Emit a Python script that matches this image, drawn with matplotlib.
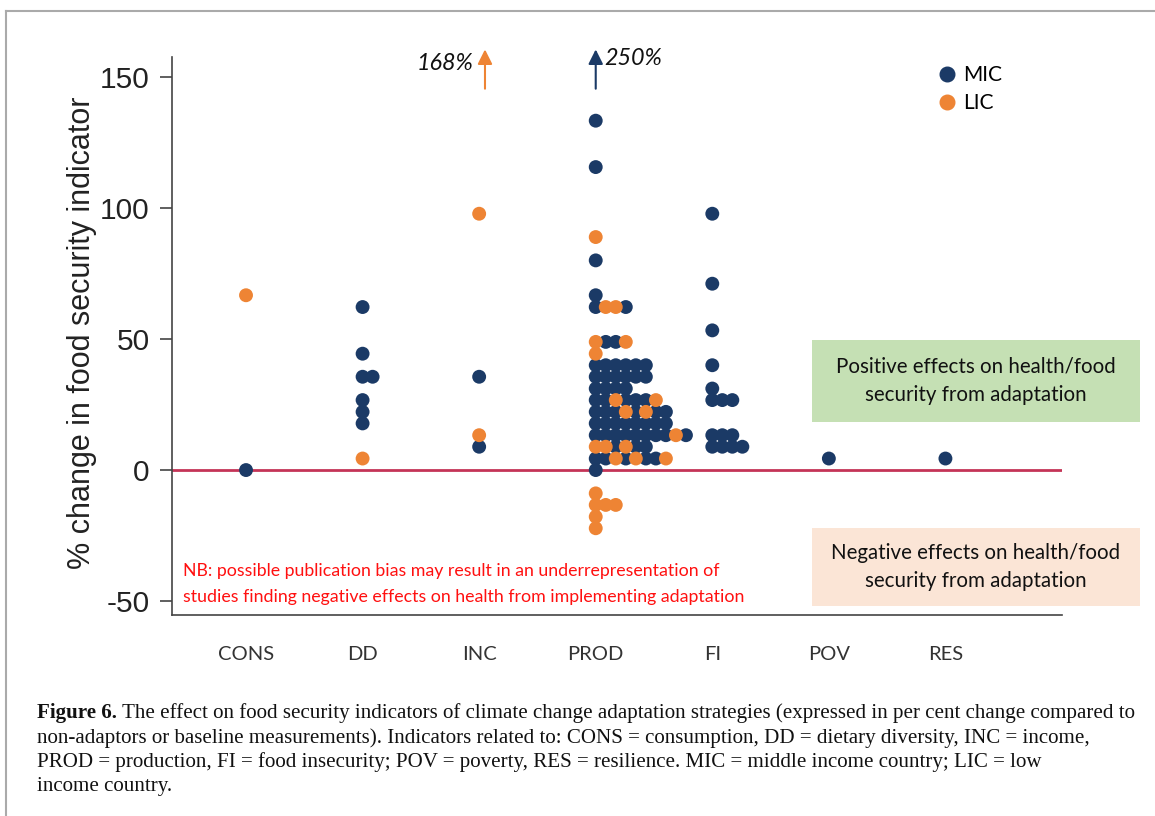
import matplotlib
matplotlib.use("Agg")
import matplotlib.pyplot as plt
from matplotlib.lines import Line2D
from matplotlib.patches import Rectangle

# ---------------- data ----------------
categories = ["CONS", "DD", "INC", "PROD", "FI", "POV", "RES"]

# binned % change values per indicator; for each bin the studies stacked left -> right
# M = middle income country (MIC), L = low income country (LIC)
CONS_BINS = [66.7, 0.0]
CONS_GROUPS = ["L", "M"]
DD_BINS = [62.2, 44.4, 35.6, 26.7, 22.2, 17.8, 4.4]
DD_GROUPS = ["M", "M", "MM", "M", "M", "M", "L"]
INC_BINS = [97.8, 35.6, 13.3, 8.9]
INC_GROUPS = ["L", "M", "L", "M"]
PROD_BINS = [133.3, 115.6, 88.9, 80.0, 66.7, 62.2, 48.9, 44.4, 40.0, 35.6, 31.1,
             26.7, 22.2, 17.8, 13.3, 8.9, 4.4, 0.0, -8.9, -13.3, -17.8, -22.2]
PROD_GROUPS = ["M", "M", "L", "M", "M", "MLLM", "LMML", "L", "MMMMMM", "MMMMMM", "MMMM",
               "MMLMMML", "MMMLMLMM", "MMMMMMMM", "MMMMMMMMLM", "LLMLMM", "MMLMLMML",
               "M", "L", "LLL", "L", "L"]
FI_BINS = [97.8, 71.1, 53.3, 40.0, 31.1, 26.7, 13.3, 8.9]
FI_GROUPS = ["M", "M", "M", "M", "M", "MMM", "MMM", "MMMM"]
POV_BINS = [4.4]
POV_GROUPS = ["M"]
RES_BINS = [4.4]
RES_GROUPS = ["M"]

ALL_BINS = [CONS_BINS, DD_BINS, INC_BINS, PROD_BINS, FI_BINS, POV_BINS, RES_BINS]
ALL_GROUPS = [CONS_GROUPS, DD_GROUPS, INC_GROUPS, PROD_GROUPS, FI_GROUPS, POV_GROUPS, RES_GROUPS]

# off-scale values shown as arrows
OFFSCALE_CATS = ["INC", "PROD"]
OFFSCALE_VALUES = [168, 250]
OFFSCALE_GROUPS = ["L", "M"]

yticks = [-50, 0, 50, 100, 150]

MIC_COLOR = "#1b3a66"
LIC_COLOR = "#ee8434"

# ---------------- figure ----------------
fig = plt.figure(figsize=(11.55, 8.16), dpi=100)
ax = fig.add_axes([172 / 1155, 1 - 615 / 816, (1062 - 172) / 1155, (615 - 57) / 816])

step = 0.086  # horizontal stacking step (category units)
mx, my, lx, ly = [], [], [], []
for i, (bins, groups) in enumerate(zip(ALL_BINS, ALL_GROUPS)):
    for v, g in zip(bins, groups):
        for j, c in enumerate(g):
            if c == "M":
                mx.append(i + j * step); my.append(v)
            else:
                lx.append(i + j * step); ly.append(v)

ax.scatter(mx, my, s=100, color=MIC_COLOR, edgecolors="none", zorder=3)
ax.scatter(lx, ly, s=100, color=LIC_COLOR, edgecolors="none", zorder=4)

ax.axhline(0, color="#c43457", lw=2, zorder=2)

ax.set_xlim(-0.635, 7.0)
ax.set_ylim(-55.3, 157.6)
ax.set_yticks(yticks)
ax.set_yticklabels([str(t) for t in yticks], fontsize=21.5, family="Liberation Sans", color="#222222")
ax.set_xticks(range(len(categories)))
ax.set_xticklabels(categories, fontsize=14.5, family="Lato", color="#333333")
ax.tick_params(axis="x", length=0, pad=22)
ax.tick_params(axis="y", length=9, width=1.2, color="#444444", pad=7)
for s in ["top", "right"]:
    ax.spines[s].set_visible(False)
for s in ["left", "bottom"]:
    ax.spines[s].set_color("#444444")
    ax.spines[s].set_linewidth(1.2)

ax.set_ylabel("% change in food security indicator", fontsize=22, family="Liberation Sans",
              color="#222222")
ax.yaxis.set_label_coords(-0.084, 0.505)

# off-scale arrows
for cat, val, grp in zip(OFFSCALE_CATS, OFFSCALE_VALUES, OFFSCALE_GROUPS):
    i = categories.index(cat)
    col = LIC_COLOR if grp == "L" else MIC_COLOR
    xa = i + (0.05 if grp == "L" else 0.0)
    ax.annotate("", xy=(xa, 160.5), xytext=(xa, 145.5), annotation_clip=False,
                arrowprops=dict(arrowstyle="-|>", color=col, lw=1.5, mutation_scale=22,
                                shrinkA=0, shrinkB=0))
    if grp == "L":
        ax.text(xa - 0.1, 155.3, f"{val}%", ha="right", va="center", fontsize=16.8,
                style="italic", family="Lato", color="#111111", clip_on=False)
    else:
        ax.text(xa + 0.07, 156.9, f"{val}%", ha="left", va="center", fontsize=16.8,
                style="italic", family="Lato", color="#111111", clip_on=False)

# legend
handles = [Line2D([], [], marker="o", ls="none", color=MIC_COLOR, markersize=10.5),
           Line2D([], [], marker="o", ls="none", color=LIC_COLOR, markersize=10.5)]
fig.legend(handles, ["MIC", "LIC"], loc="upper left", bbox_to_anchor=(924 / 1155, 1 - 55 / 816),
           frameon=False, prop=dict(family="Lato", size=15), handletextpad=0.2,
           labelspacing=0.37, handlelength=1.2, borderpad=0)

# NB text
ax.text(183 / 1155, 1 - 584 / 816,
        "NB: possible publication bias may result in an underrepresentation of\n"
        "studies finding negative effects on health from implementing adaptation",
        transform=fig.transFigure, ha="left", va="center", fontsize=12.8, family="Lato",
        color="#ff1010", linespacing=1.8)

# effect boxes
fig.patches.append(Rectangle((812 / 1155, 1 - 422 / 816), 328 / 1155, 82 / 816,
                             transform=fig.transFigure, facecolor="#c5e0b4", edgecolor="none", zorder=0))
fig.patches.append(Rectangle((812 / 1155, 1 - 606 / 816), 328 / 1155, 78 / 816,
                             transform=fig.transFigure, facecolor="#fbe5d6", edgecolor="none", zorder=0))
fig.text(976 / 1155, 1 - 381 / 816, "Positive effects on health/food\nsecurity from adaptation",
         ha="center", va="center", fontsize=14.8, family="Lato", color="#111111", linespacing=1.56)
fig.text(976 / 1155, 1 - 567 / 816, "Negative effects on health/food\nsecurity from adaptation",
         ha="center", va="center", fontsize=14.8, family="Lato", color="#111111", linespacing=1.56)

# frame lines
fig.add_artist(Line2D([6 / 1155, 1], [1 - 11 / 816, 1 - 11 / 816], transform=fig.transFigure,
                      color="#aaaaaa", lw=1.5))
fig.add_artist(Line2D([6 / 1155, 6 / 1155], [0, 1 - 11 / 816], transform=fig.transFigure,
                      color="#aaaaaa", lw=1.5))

# caption
cap_lines = [
    "The effect on food security indicators of climate change adaptation strategies (expressed in per cent change compared to",
    "non-adaptors or baseline measurements). Indicators related to: CONS = consumption, DD = dietary diversity, INC = income,",
    "PROD = production, FI = food insecurity; POV = poverty, RES = resilience. MIC = middle income country; LIC = low",
    "income country.",
]
cap_y = [713, 738, 762, 786]
cap_fs = 15.1
renderer = fig.canvas.get_renderer()
bold = fig.text(37 / 1155, 1 - cap_y[0] / 816, "Figure 6.", ha="left", va="center",
                fontsize=cap_fs, family="Liberation Serif", weight="bold", color="#111111")
bw = bold.get_window_extent(renderer=renderer).width
fig.text((37 + bw + 5) / 1155, 1 - cap_y[0] / 816, cap_lines[0], ha="left", va="center",
         fontsize=cap_fs, family="Liberation Serif", color="#111111")
for line, yy in zip(cap_lines[1:], cap_y[1:]):
    fig.text(37 / 1155, 1 - yy / 816, line, ha="left", va="center", fontsize=cap_fs,
             family="Liberation Serif", color="#111111")

fig.savefig("out.png", dpi=100)
